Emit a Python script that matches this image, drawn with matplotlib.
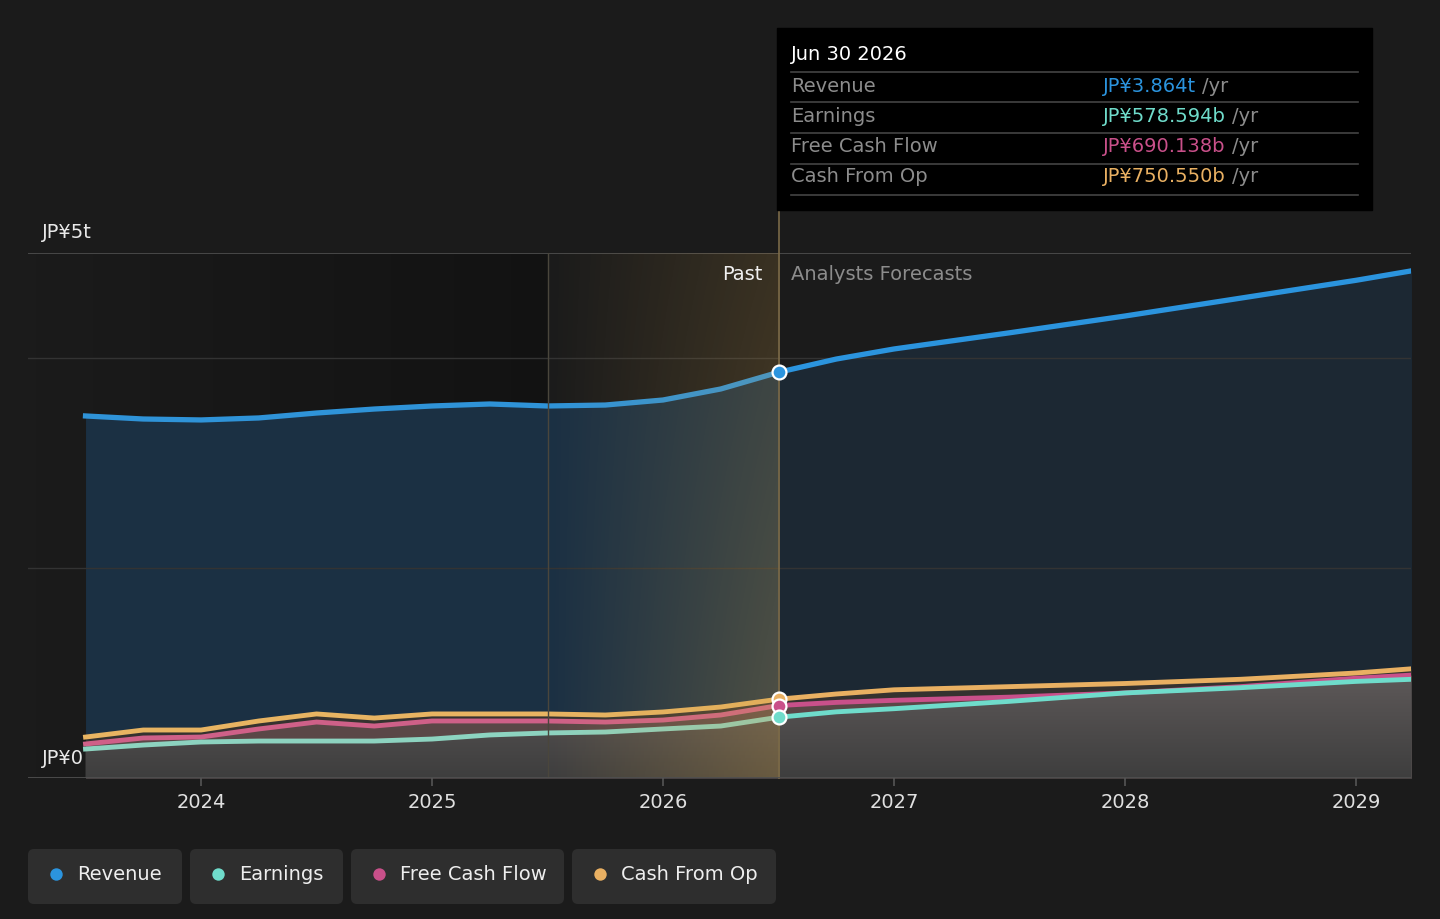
import matplotlib
matplotlib.use('Agg')
import matplotlib.pyplot as plt
import numpy as np
from matplotlib.patches import FancyBboxPatch, Rectangle

# Colours
BG = '#1b1b1b'
REV_C = '#2b94de'
EARN_C = '#6fdccb'
FCF_C = '#c9508a'
CFO_C = '#e9b062'
# past lines are drawn a little paler
PAST_C = ['#2f93d8', '#8dd3c0', '#cf6088', '#e8b462']
GREY_TXT = '#8c8c8c'

# Data (JP¥ trillions), reported / trailing part
past_t = [2023.5, 2023.75, 2024.0, 2024.25, 2024.5, 2024.75, 2025.0,
          2025.25, 2025.5, 2025.75, 2026.0, 2026.25, 2026.5]
rev_past = [3.448, 3.419, 3.410, 3.429, 3.476, 3.514, 3.543,
            3.562, 3.543, 3.552, 3.600, 3.705, 3.864]
earn_past = [0.276, 0.314, 0.343, 0.352, 0.352, 0.352, 0.371,
             0.410, 0.429, 0.438, 0.467, 0.495, 0.5786]
fcf_past = [0.324, 0.381, 0.390, 0.467, 0.533, 0.495, 0.543,
            0.543, 0.543, 0.533, 0.552, 0.600, 0.690]
cfo_past = [0.390, 0.457, 0.457, 0.543, 0.610, 0.571, 0.610,
            0.610, 0.610, 0.600, 0.629, 0.676, 0.7506]

# Analyst forecasts
fc_t = [2026.5, 2026.75, 2027.0, 2027.5, 2028.0, 2028.5, 2029.0, 2029.24]
rev_fc = [3.864, 3.990, 4.086, 4.240, 4.400, 4.570, 4.740, 4.830]
earn_fc = [0.5786, 0.630, 0.660, 0.730, 0.810, 0.860, 0.920, 0.940]
fcf_fc = [0.690, 0.720, 0.740, 0.770, 0.810, 0.870, 0.950, 0.980]
cfo_fc = [0.7506, 0.800, 0.840, 0.870, 0.900, 0.940, 1.000, 1.040]

years = [2024, 2025, 2026, 2027, 2028, 2029]

t_all = past_t + fc_t[1:]
earn_all = earn_past + earn_fc[1:]
fcf_all = fcf_past + fcf_fc[1:]
cfo_all = cfo_past + cfo_fc[1:]

X0, X1 = 2023.251, 2029.238
FS = 14

fig = plt.figure(figsize=(14.4, 9.19), dpi=100, facecolor=BG)
ax = fig.add_axes([28 / 1440, 141 / 919, 1383 / 1440, 525 / 919])
ax.set_facecolor(BG)
ax.set_xlim(X0, X1)
ax.set_ylim(0, 5)

# Darker past band (background only)
band = np.zeros((1, 256, 4))
band[0, :, 3] = np.linspace(0.0, 0.32, 256)
ax.imshow(band, extent=(X0, 2025.5, 0, 5), aspect='auto', zorder=0.6)

# Revenue areas
ax.fill_between(past_t, 0, rev_past, color='#1b3043', lw=0, zorder=1)
ax.fill_between(fc_t, 0, rev_fc, color='#1c2833', lw=0, zorder=1)

# Lower series areas
ax.fill_between(t_all, 0, cfo_all, color='#35322f', lw=0, zorder=1.2)
ax.fill_between(t_all, 0, fcf_all, color='#5a4747', lw=0, zorder=1.3)
poly = ax.fill_between(t_all, 0, earn_all, color='#4b4848', lw=0, zorder=1.4)
grad = np.linspace(0, 1, 256).reshape(-1, 1)
im = ax.imshow(grad, cmap=matplotlib.colors.LinearSegmentedColormap.from_list(
    'g', ['#5e5959', '#3e3e3e']), extent=(X0, X1, 0, 1.0), aspect='auto',
    zorder=1.5, origin='upper')
im.set_clip_path(poly.get_paths()[0], ax.transData)

# Grid
ax.axhline(5, color='#505050', lw=1.2, zorder=0.7)
ax.axhline(4, color='#333333', lw=1, zorder=1.6)
ax.axhline(2, color='#333333', lw=1, zorder=1.6)
ax.axhline(0, color='#4f4f4f', lw=2, zorder=6)

# Lines
for tt, ys, cols in [(past_t, [rev_past, earn_past, fcf_past, cfo_past], PAST_C),
                     (fc_t, [rev_fc, earn_fc, fcf_fc, cfo_fc],
                      [REV_C, EARN_C, FCF_C, CFO_C])]:
    ax.plot(tt, ys[0], color=cols[0], lw=3.8, zorder=4)
    ax.plot(tt, ys[3], color=cols[3], lw=3.5, zorder=4.1)
    ax.plot(tt, ys[2], color=cols[2], lw=3.5, zorder=4.2)
    ax.plot(tt, ys[1], color=cols[1], lw=3.5, zorder=4.3)

# Highlight of last past year (stronger towards the right and bottom)
xs = np.linspace(0, 1, 256)
ys_ = np.linspace(0, 1, 128).reshape(-1, 1)
hl = np.zeros((128, 256, 4))
hl[..., 0] = 0.82
hl[..., 1] = 0.63
hl[..., 2] = 0.28
hl[..., 3] = xs * (0.17 + 0.13 * ys_)
ax.imshow(hl, extent=(2025.5, 2026.5, 0, 5), aspect='auto', zorder=5,
          origin='upper')
ax.axvline(2025.5, color='#4a463c', lw=1, zorder=5.5)
ax.axvline(2026.5, ymin=0, ymax=(778 - 210) / 525, color='#7b6a48', lw=1.2,
           zorder=5.5, clip_on=False)

# Markers at the cursor
for val, c in [(rev_past[-1], REV_C), (cfo_past[-1], CFO_C),
               (fcf_past[-1], FCF_C), (earn_past[-1], EARN_C)]:
    ax.plot(past_t[-1], val, 'o', ms=10, color=c, mec='white', mew=1.6, zorder=10)

ax.set_xticks(years)
ax.set_xticklabels([str(y) for y in years])
ax.set_yticks([])
ax.tick_params(axis='x', colors='#555555', labelcolor='#e0e0e0',
               labelsize=FS, length=6, width=1.2, pad=5)
for s in ax.spines.values():
    s.set_visible(False)

# Overlay in pixel coordinates for text / tooltip / legend
ov = fig.add_axes([0, 0, 1, 1], zorder=20)
ov.set_xlim(0, 1440)
ov.set_ylim(919, 0)
ov.axis('off')
ov.patch.set_alpha(0)

ov.text(42, 232, 'JP¥5t', color='#e8e8e8', fontsize=FS, va='center')
ov.text(42, 758, 'JP¥0', color='#e8e8e8', fontsize=FS, va='center')
ov.text(762, 274, 'Past', color='#f0f0f0', fontsize=FS, va='center', ha='right')
ov.text(791, 274, 'Analysts Forecasts', color=GREY_TXT, fontsize=FS, va='center')

# Tooltip
ov.add_patch(Rectangle((777, 28), 595, 182, color='black', zorder=1))
ov.text(791, 55, 'Jun 30 2026', color='white', fontsize=FS, va='center', zorder=2)
rows = [('Revenue', 'JP¥3.864t', REV_C),
        ('Earnings', 'JP¥578.594b', EARN_C),
        ('Free Cash Flow', 'JP¥690.138b', FCF_C),
        ('Cash From Op', 'JP¥750.550b', CFO_C)]
row_y = [86, 116, 147, 177]
for yl in [72, 102, 133, 164, 195]:
    ov.plot([791, 1358], [yl, yl], color='#444444', lw=1.2, zorder=2)
for (lab, val, c), yy in zip(rows, row_y):
    ov.text(791, yy, lab, color=GREY_TXT, fontsize=FS, va='center', zorder=3)
    t = ov.text(1103, yy, val, color=c, fontsize=FS, va='center', zorder=3)
    fig.canvas.draw()
    bb = t.get_window_extent()
    ov.text(bb.x1 + 6, yy, '/yr', color=GREY_TXT, fontsize=FS, va='center', zorder=3)

# Legend chips
chips = [('Revenue', REV_C, 28, 154), ('Earnings', EARN_C, 190, 153),
         ('Free Cash Flow', FCF_C, 351, 213), ('Cash From Op', CFO_C, 572, 204)]
for lab, c, x, w in chips:
    ov.add_patch(FancyBboxPatch((x, 849), w, 55,
                                boxstyle='round,pad=0,rounding_size=6',
                                color='#2e2e2e', lw=0))
    ov.scatter([x + 28], [873.5], s=80, color=c, lw=0)
    ov.text(x + 49, 874, lab, color='#eeeeee', fontsize=FS, va='center')

fig.savefig('out.png', dpi=100, facecolor=BG)
